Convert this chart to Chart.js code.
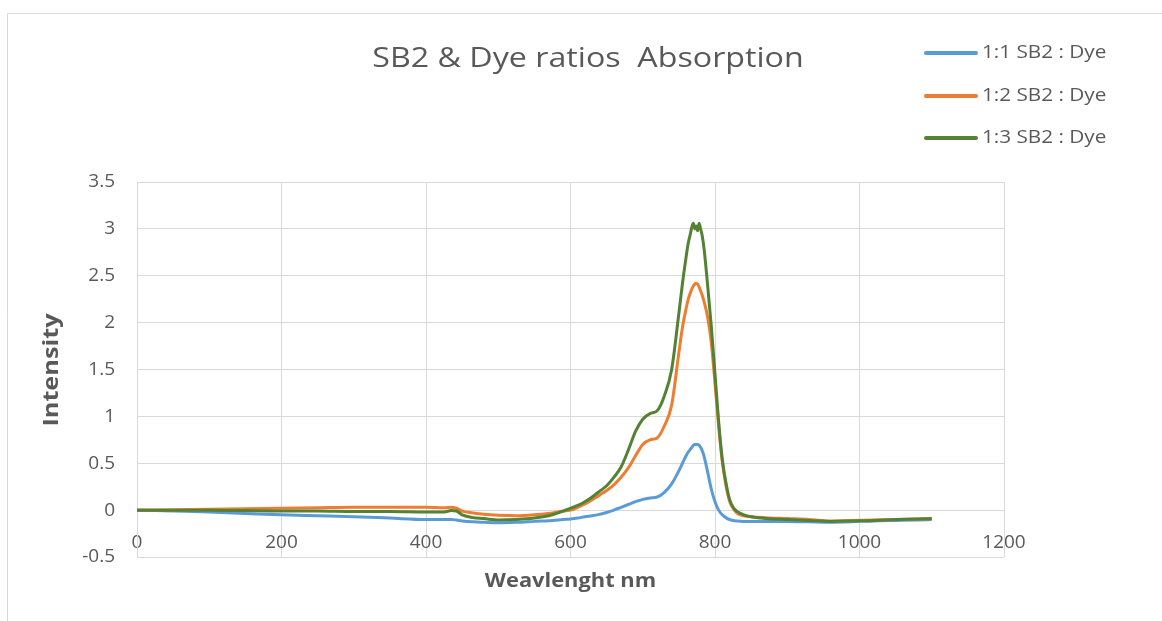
<!DOCTYPE html>
<html>
<head>
<meta charset="utf-8">
<script src="https://cdn.jsdelivr.net/npm/chart.js@4/dist/chart.umd.min.js"></script>
<style>
  html, body { margin: 0; padding: 0; background: #ffffff; }
  #wrap { width: 1162px; height: 621px; }
</style>
</head>
<body>
<div id="wrap"><canvas id="c" width="1162" height="621"></canvas></div>
<script>
// Absorption spectra of SB2 : dye mixtures (intensity vs wavelength, nm)
const wavelengths = [0,50,100,150,200,250,300,350,400,425,435,442,450,465,480,500,525,550,575,590,600,610,620,630,640,650,660,670,680,690,700,710,720,730,740,750,755,760,763,766,768,770,772,774,776,778,780,782,785,790,795,800,805,810,815,820,825,830,840,850,870,900,930,960,990,1020,1050,1080,1100];

const ratio11 = [0,-0.01,-0.02,-0.035,-0.05,-0.06,-0.07,-0.085,-0.10,-0.10,-0.10,-0.105,-0.115,-0.125,-0.13,-0.135,-0.13,-0.12,-0.11,-0.10,-0.095,-0.085,-0.07,-0.06,-0.045,-0.025,0.0,0.03,0.06,0.09,0.115,0.13,0.14,0.19,0.28,0.42,0.50,0.58,0.62,0.65,0.67,0.69,0.70,0.70,0.70,0.69,0.67,0.64,0.57,0.40,0.22,0.09,0.0,-0.05,-0.08,-0.10,-0.11,-0.115,-0.12,-0.12,-0.12,-0.12,-0.125,-0.13,-0.125,-0.115,-0.11,-0.105,-0.10];

const ratio12 = [0,0.005,0.01,0.015,0.02,0.025,0.03,0.03,0.03,0.025,0.03,0.02,-0.01,-0.03,-0.045,-0.055,-0.06,-0.05,-0.03,-0.01,0.0,0.03,0.065,0.11,0.16,0.21,0.27,0.35,0.45,0.58,0.70,0.75,0.77,0.90,1.12,1.68,1.95,2.15,2.25,2.32,2.36,2.39,2.41,2.42,2.41,2.38,2.34,2.30,2.22,2.05,1.78,1.35,0.90,0.52,0.27,0.10,0.02,-0.03,-0.06,-0.07,-0.08,-0.09,-0.10,-0.115,-0.11,-0.105,-0.10,-0.095,-0.09];

const ratio13 = [0,0,0,-0.005,-0.01,-0.01,-0.015,-0.015,-0.02,-0.02,-0.005,-0.01,-0.05,-0.08,-0.09,-0.105,-0.10,-0.085,-0.05,-0.01,0.02,0.05,0.09,0.14,0.20,0.26,0.35,0.46,0.64,0.84,0.97,1.03,1.06,1.22,1.50,2.10,2.42,2.70,2.85,2.95,3.02,3.06,3.00,3.03,2.98,3.06,3.00,2.94,2.78,2.38,1.95,1.45,0.95,0.55,0.30,0.12,0.03,-0.01,-0.05,-0.07,-0.09,-0.10,-0.11,-0.12,-0.115,-0.11,-0.10,-0.095,-0.09];

const seriesLabels = ['1:1 SB2 : Dye', '1:2 SB2 : Dye', '1:3 SB2 : Dye'];
const seriesColors = ['#5B9BD5', '#ED7D31', '#548235'];
const xTicks = [0, 200, 400, 600, 800, 1000, 1200];
const yTicks = [-0.5, 0, 0.5, 1, 1.5, 2, 2.5, 3, 3.5];

const chartTitle = 'SB2 & Dye ratios  Absorption';
const xTitle = 'Weavlenght nm';
const yTitle = 'Intensity';

const TEXT = '#595959';
const GRID = '#d9d9d9';
const FONT = '"Open Sans", "Noto Sans", sans-serif';
const STRETCH = 1.15;

function pts(vals) { return wavelengths.map((w, i) => ({ x: w, y: vals[i] })); }

// text drawn slightly widened, like the original office chart
function wideText(ctx, txt, x, y, font, align) {
  ctx.save();
  ctx.font = font;
  ctx.fillStyle = TEXT;
  ctx.textBaseline = 'middle';
  ctx.textAlign = 'left';
  const w = ctx.measureText(txt).width * STRETCH;
  let left = x;
  if (align === 'center') left = x - w / 2;
  ctx.translate(left, y);
  ctx.scale(STRETCH, 1);
  ctx.fillText(txt, 0, 0);
  ctx.restore();
}

const decor = {
  id: 'decor',
  beforeDraw(chart) {
    const ctx = chart.ctx;
    ctx.save();
    ctx.fillStyle = '#ffffff';
    ctx.fillRect(0, 0, chart.width, chart.height);
    ctx.strokeStyle = GRID;
    ctx.lineWidth = 1;
    ctx.beginPath();
    ctx.moveTo(7.5, chart.height);
    ctx.lineTo(7.5, 13.5);
    ctx.lineTo(chart.width, 13.5);
    ctx.stroke();
    ctx.restore();
  },
  afterDraw(chart) {
    const ctx = chart.ctx;
    const area = chart.chartArea;
    // title
    wideText(ctx, chartTitle, 588, 59, '28px ' + FONT, 'center');
    // x axis title
    wideText(ctx, xTitle, (area.left + area.right) / 2, 582, 'bold 19px ' + FONT, 'center');
    // y axis title (rotated)
    ctx.save();
    ctx.translate(52, 370);
    ctx.rotate(-Math.PI / 2);
    wideText(ctx, yTitle, 0, 0, 'bold 22px ' + FONT, 'center');
    ctx.restore();
    // legend
    const rows = [53, 96, 138];
    chart.data.datasets.forEach((ds, i) => {
      ctx.save();
      ctx.strokeStyle = ds.borderColor;
      ctx.lineWidth = 4;
      ctx.lineCap = 'round';
      ctx.beginPath();
      ctx.moveTo(926, rows[i]);
      ctx.lineTo(976, rows[i]);
      ctx.stroke();
      ctx.restore();
      wideText(ctx, ds.label, 982, rows[i], '18px ' + FONT, 'left');
    });
  }
};

new Chart(document.getElementById('c'), {
  type: 'line',
  data: {
    datasets: [
      { label: seriesLabels[0], data: pts(ratio11), borderColor: seriesColors[0], order: 3 },
      { label: seriesLabels[1], data: pts(ratio12), borderColor: seriesColors[1], order: 2 },
      { label: seriesLabels[2], data: pts(ratio13), borderColor: seriesColors[2], order: 1 }
    ]
  },
  options: {
    responsive: false,
    animation: false,
    devicePixelRatio: 1,
    layout: { padding: { left: 0, top: 182, right: 158, bottom: 64 } },
    elements: {
      line: { borderWidth: 3, cubicInterpolationMode: 'monotone', fill: false },
      point: { radius: 0, hoverRadius: 0 }
    },
    plugins: { legend: { display: false }, title: { display: false }, tooltip: { enabled: false } },
    scales: {
      x: {
        type: 'linear',
        position: { y: 0 },
        min: 0, max: 1200,
        afterBuildTicks(scale) { scale.ticks = xTicks.map(v => ({ value: v })); },
        grid: { color: GRID, drawTicks: false, lineWidth: 1 },
        border: { color: GRID },
        ticks: { color: TEXT, font: { family: FONT, size: 19 }, padding: 21, maxRotation: 0, callback: v => String(v) }
      },
      y: {
        type: 'linear',
        min: -0.5, max: 3.5,
        afterFit(scale) { scale.width = 137; },
        afterBuildTicks(scale) { scale.ticks = yTicks.map(v => ({ value: v })); },
        grid: { color: GRID, drawTicks: false, lineWidth: 1 },
        border: { color: GRID },
        ticks: { color: TEXT, font: { family: FONT, size: 19 }, padding: 22, callback: v => String(v) }
      }
    }
  },
  plugins: [decor]
});
</script>
</body>
</html>
